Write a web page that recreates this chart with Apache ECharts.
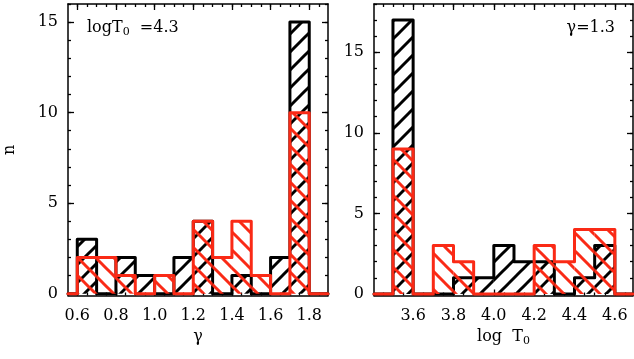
<!DOCTYPE html>
<html>
<head>
<meta charset="utf-8">
<script src="https://cdn.jsdelivr.net/npm/echarts@6/dist/echarts.min.js"></script>
<style>
  html, body { margin: 0; padding: 0; background: #fff; }
  #chart { width: 634px; height: 359px; }
</style>
</head>
<body>
<div id="chart"></div>
<script>
// Histogram of gamma (log T0 fixed at 4.3): bin edges and counts
const gammaEdges = [0.6, 0.7, 0.8, 0.9, 1.0, 1.1, 1.2, 1.3, 1.4, 1.5, 1.6, 1.7, 1.8];
const gammaBlack = [3, 0, 2, 1, 0, 2, 4, 0, 1, 0, 2, 15];
const gammaRed   = [2, 2, 1, 0, 1, 0, 4, 2, 4, 1, 0, 10];

// Histogram of log T0 (gamma fixed at 1.3): bin edges and counts
const logTEdges = [3.5, 3.6, 3.7, 3.8, 3.9, 4.0, 4.1, 4.2, 4.3, 4.4, 4.5, 4.6];
const logTBlack = [17, 0, 0, 1, 1, 3, 2, 2, 0, 1, 3];
const logTRed   = [9, 0, 3, 2, 0, 0, 0, 3, 2, 4, 4];

// Tick positions and labels
const gammaTicks = [0.6, 0.8, 1.0, 1.2, 1.4, 1.6, 1.8];
const logTTicks = [3.6, 3.8, 4.0, 4.2, 4.4, 4.6];
const countTicks = [0, 5, 10, 15];

const BLACK = '#000000';
const RED = '#fa2a16';
const FONT = 'DejaVu Serif';

// Diagonal hatch tile; dir = 1 for '/', -1 for '\'
function hatch(color, dir) {
  const s = 18;
  const c = document.createElement('canvas');
  c.width = s; c.height = s;
  const g = c.getContext('2d');
  g.strokeStyle = color;
  g.lineWidth = 3;
  for (let k = -1; k <= 1; k++) {
    g.beginPath();
    if (dir > 0) {
      g.moveTo(-4, s + 4 + k * s);
      g.lineTo(s + 4, -4 + k * s);
    } else {
      g.moveTo(-4, -4 + k * s);
      g.lineTo(s + 4, s + 4 + k * s);
    }
    g.stroke();
  }
  return { image: c, repeat: 'repeat' };
}
const blackHatch = hatch(BLACK, 1);
const redHatch = hatch(RED, -1);

function range(a, b, step) {
  const out = [];
  for (let v = a; v <= b + 1e-9; v += step) out.push(Math.round(v * 1000) / 1000);
  return out;
}

const panels = [
  { left: 68, width: 260, xmin: 0.552, xmax: 1.897, ymin: -0.1, ymax: 16,
    edges: gammaEdges, black: gammaBlack, red: gammaRed, ticks: gammaTicks,
    minorX: range(0.55, 1.9, 0.05), minorY: range(0, 16, 1),
    name: 'γ' },
  { left: 374, width: 259, xmin: 3.406, xmax: 4.69, ymin: -0.1, ymax: 18,
    edges: logTEdges, black: logTBlack, red: logTRed, ticks: logTTicks,
    minorX: range(3.45, 4.65, 0.05), minorY: range(0, 18, 1),
    name: 'log  T{sub|0}' }
];

const grids = [], xAxes = [], yAxes = [], series = [];
const lineStyle = { color: BLACK, width: 1.5 };

panels.forEach((p, gi) => {
  grids.push({ left: p.left, width: p.width, top: 4, height: 291.5 });
  const xBase = { gridIndex: gi, type: 'value', min: p.xmin, max: p.xmax,
    splitLine: { show: false } };
  const yBase = { gridIndex: gi, type: 'value', min: p.ymin, max: p.ymax,
    splitLine: { show: false } };
  const tick = (vals, len) => ({ show: true, inside: true, length: len,
    customValues: vals, lineStyle: { color: BLACK, width: 1.3 } });

  // bottom: labelled major ticks, then minor ticks; top mirrors them
  xAxes.push(Object.assign({}, xBase, {
    position: 'bottom', axisLine: { show: true, onZero: false, lineStyle },
    axisTick: tick(p.ticks, 6),
    axisLabel: { show: true, customValues: p.ticks, margin: 12,
      formatter: v => v.toFixed(1), color: BLACK, fontFamily: FONT, fontSize: 16 },
    name: p.name, nameLocation: 'middle', nameGap: 32,
    nameTextStyle: { color: BLACK, fontFamily: FONT, fontSize: 16,
      rich: { sub: { fontFamily: FONT, fontSize: 11, verticalAlign: 'bottom', padding: [8, 0, 0, 0] } } }
  }));
  xAxes.push(Object.assign({}, xBase, {
    position: 'bottom', axisLine: { show: false, onZero: false },
    axisTick: tick(p.minorX, 3), axisLabel: { show: false }
  }));
  xAxes.push(Object.assign({}, xBase, {
    position: 'top', axisLine: { show: true, onZero: false, lineStyle },
    axisTick: tick(p.ticks, 6), axisLabel: { show: false }
  }));
  xAxes.push(Object.assign({}, xBase, {
    position: 'top', axisLine: { show: false, onZero: false },
    axisTick: tick(p.minorX, 3), axisLabel: { show: false }
  }));

  yAxes.push(Object.assign({}, yBase, {
    position: 'left', axisLine: { show: true, onZero: false, lineStyle },
    axisTick: tick(countTicks, 6),
    axisLabel: { show: true, customValues: countTicks, margin: 10,
      color: BLACK, fontFamily: FONT, fontSize: 16 },
    name: gi === 0 ? 'n' : '', nameLocation: 'middle', nameGap: 50, nameRotate: 90,
    nameTextStyle: { color: BLACK, fontFamily: FONT, fontSize: 16 }
  }));
  yAxes.push(Object.assign({}, yBase, {
    position: 'left', axisLine: { show: false, onZero: false },
    axisTick: tick(p.minorY, 3), axisLabel: { show: false }
  }));
  yAxes.push(Object.assign({}, yBase, {
    position: 'right', axisLine: { show: true, onZero: false, lineStyle },
    axisTick: tick(countTicks, 6), axisLabel: { show: false }
  }));
  yAxes.push(Object.assign({}, yBase, {
    position: 'right', axisLine: { show: false, onZero: false },
    axisTick: tick(p.minorY, 3), axisLabel: { show: false }
  }));

  const ax = gi * 4;
  [[p.black, BLACK, blackHatch, 1], [p.red, RED, redHatch, 3]].forEach(([counts, color, fill, z]) => {
    // hatched bins
    const bins = counts.map((n, i) => [p.edges[i], p.edges[i + 1], n]);
    series.push({
      type: 'custom', xAxisIndex: ax, yAxisIndex: ax, z: z, silent: true,
      data: bins,
      renderItem(params, api) {
        const n = api.value(2);
        if (!n) return null;
        const a = api.coord([api.value(0), 0]);
        const b = api.coord([api.value(1), n]);
        return { type: 'rect',
          shape: { x: a[0], y: b[1], width: b[0] - a[0], height: a[1] - b[1] },
          style: { fill: fill } };
      }
    });
    // step outline running along zero outside the bins
    const pts = [[p.xmin, 0]];
    counts.forEach((n, i) => pts.push([p.edges[i], n]));
    pts.push([p.edges[p.edges.length - 1], 0]);
    pts.push([p.xmax, 0]);
    series.push({
      type: 'line', xAxisIndex: ax, yAxisIndex: ax, z: z + 1, silent: true,
      step: 'end', showSymbol: false, symbol: 'none', data: pts,
      lineStyle: { color: color, width: 3, join: 'round', cap: 'round' }
    });
  });
});

const chart = echarts.init(document.getElementById('chart'), null, { renderer: 'canvas' });
chart.setOption({
  animation: false,
  backgroundColor: '#ffffff',
  grid: grids,
  xAxis: xAxes,
  yAxis: yAxes,
  series: series,
  graphic: [
    { type: 'text', left: 87, top: 20,
      style: { text: 'logT{sub|0}  =4.3', fill: BLACK, font: '16px "DejaVu Serif"',
        rich: { sub: { fontSize: 11, fontFamily: FONT, padding: [8, 0, 0, 0] } } } },
    { type: 'text', right: 19, top: 20,
      style: { text: 'γ=1.3', fill: BLACK, font: '16px "DejaVu Serif"' } }
  ]
});
</script>
</body>
</html>
